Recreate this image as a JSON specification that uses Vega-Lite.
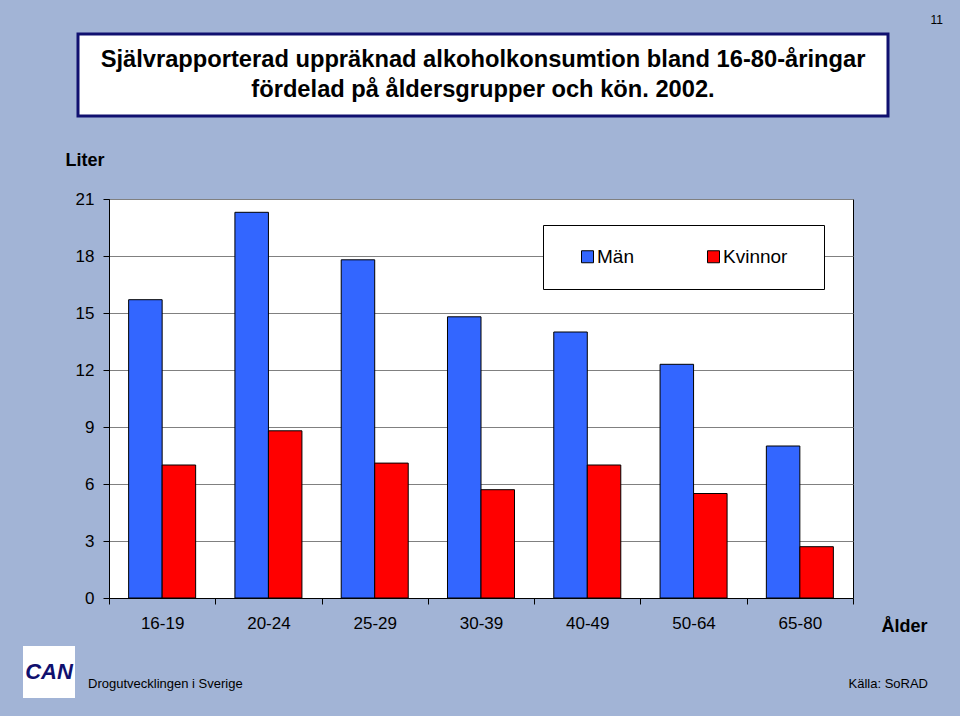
{
  "$schema": "https://vega.github.io/schema/vega-lite/v6.json",
  "background": "#A2B4D6",
  "padding": {"left": 23, "top": 13, "right": 40, "bottom": 30},
  "title": {"text": "11", "anchor": "end", "fontSize": 12, "fontWeight": "normal", "font": "Liberation Sans", "color": "#000000", "offset": 6, "dx": 15},
  "spacing": 32,
  "config": {"font": "Liberation Sans"},
  "vconcat": [
    {
      "spacing": 52,
      "hconcat": [
        {"width": 1, "height": 1, "view": {"stroke": null}, "data": {"values": []}, "mark": {"type": "point", "opacity": 0}},
        {
          "width": 810,
          "height": 82,
          "view": {"fill": "white", "stroke": "#101070", "strokeWidth": 3},
          "data": {"values": [
            {"line": 1, "text": "Självrapporterad uppräknad alkoholkonsumtion bland 16-80-åringar"},
            {"line": 2, "text": "fördelad på åldersgrupper och kön. 2002."}
          ]},
          "mark": {"type": "text", "font": "Liberation Sans", "fontSize": 23.7, "fontWeight": "bold", "color": "#000000", "baseline": "middle"},
          "encoding": {
            "y": {"field": "line", "type": "ordinal", "axis": null, "scale": {"type": "point", "padding": 0.91}},
            "text": {"field": "text"}
          }
        }
      ]
    },
    {
      "spacing": 10,
      "vconcat": [
        {
          "spacing": 40,
          "hconcat": [
            {"width": 1, "height": 1, "view": {"stroke": null}, "data": {"values": []}, "mark": {"type": "point", "opacity": 0}},
            {
              "width": 744,
              "height": 399,
              "view": {"fill": "white", "stroke": "#000000", "strokeWidth": 1},
              "data": {"values": [
                {"age": "16-19", "kon": "Män", "liter": 15.7},
                {"age": "16-19", "kon": "Kvinnor", "liter": 7.0},
                {"age": "20-24", "kon": "Män", "liter": 20.3},
                {"age": "20-24", "kon": "Kvinnor", "liter": 8.8},
                {"age": "25-29", "kon": "Män", "liter": 17.8},
                {"age": "25-29", "kon": "Kvinnor", "liter": 7.1},
                {"age": "30-39", "kon": "Män", "liter": 14.8},
                {"age": "30-39", "kon": "Kvinnor", "liter": 5.7},
                {"age": "40-49", "kon": "Män", "liter": 14.0},
                {"age": "40-49", "kon": "Kvinnor", "liter": 7.0},
                {"age": "50-64", "kon": "Män", "liter": 12.3},
                {"age": "50-64", "kon": "Kvinnor", "liter": 5.5},
                {"age": "65-80", "kon": "Män", "liter": 8.0},
                {"age": "65-80", "kon": "Kvinnor", "liter": 2.7}
              ]},
              "mark": {"type": "bar", "stroke": "#000000", "strokeWidth": 1},
              "encoding": {
                "x": {
                  "field": "age", "type": "nominal", "sort": null,
                  "scale": {"paddingInner": 0, "paddingOuter": 0},
                  "axis": {
                    "title": "Ålder", "titleX": 795, "titleY": 28, "titleAlign": "center", "titleBaseline": "middle",
                    "titleFontSize": 18, "titleFontWeight": "bold", "titleColor": "#000000", "titleFont": "Liberation Sans",
                    "labelAngle": 0, "labelFontSize": 17, "labelColor": "#000000", "labelFont": "Liberation Sans", "labelPadding": 11,
                    "tickBand": "extent", "tickSize": 6, "tickColor": "#000000", "domainColor": "#000000", "grid": false
                  }
                },
                "xOffset": {"field": "kon", "type": "nominal", "sort": ["Män", "Kvinnor"], "scale": {"paddingInner": 0, "paddingOuter": 0.586}},
                "y": {
                  "field": "liter", "type": "quantitative",
                  "scale": {"domain": [0, 21], "nice": false},
                  "axis": {
                    "title": "Liter", "titleAngle": 0, "titleX": -44, "titleY": -39, "titleAlign": "left", "titleBaseline": "middle",
                    "titleFontSize": 18, "titleFontWeight": "bold", "titleColor": "#000000", "titleFont": "Liberation Sans",
                    "values": [0, 3, 6, 9, 12, 15, 18, 21],
                    "labelFontSize": 17, "labelColor": "#000000", "labelFont": "Liberation Sans", "labelPadding": 9,
                    "tickSize": 6, "tickColor": "#000000", "domainColor": "#000000",
                    "grid": true, "gridColor": "#808080", "gridWidth": 1
                  }
                },
                "color": {
                  "field": "kon", "type": "nominal",
                  "scale": {"domain": ["Män", "Kvinnor"], "range": ["#3366FF", "#FF0000"]},
                  "legend": {
                    "title": null, "orient": "none", "legendX": 520, "legendY": 191, "direction": "horizontal",
                    "fillColor": "white", "strokeColor": "#000000", "padding": 22,
                    "symbolType": "square", "symbolSize": 144, "symbolStrokeColor": "#000000", "symbolStrokeWidth": 1, "symbolOpacity": 1,
                    "symbolOffset": 13, "labelOffset": 0, "columnPadding": 57,
                    "labelFontSize": 19, "labelColor": "#000000", "labelFont": "Liberation Sans",
                    "labelExpr": "datum.label == 'Kvinnor' ? 'Kvinnor\u2800' : datum.label"
                  }
                }
              }
            }
          ]
        },
        {
          "spacing": 13,
          "hconcat": [
            {
              "width": 52,
              "height": 52,
              "view": {"fill": "white", "stroke": null},
              "data": {"values": [{"logo": "CAN"}]},
              "mark": {"type": "text", "font": "Liberation Sans", "fontSize": 22, "fontWeight": "bold", "fontStyle": "italic", "color": "#10106E", "baseline": "middle"},
              "encoding": {"text": {"field": "logo"}}
            },
            {
              "width": 840,
              "height": 52,
              "view": {"stroke": null},
              "data": {"values": [
                {"side": "left", "text": "Drogutvecklingen i Sverige"},
                {"side": "right", "text": "Källa: SoRAD"}
              ]},
              "encoding": {
                "x": {"field": "side", "type": "nominal", "scale": {"type": "point", "padding": 0, "domain": ["left", "right"]}, "axis": null},
                "text": {"field": "text"}
              },
              "layer": [
                {"transform": [{"filter": "datum.side == 'left'"}], "mark": {"type": "text", "align": "left", "dy": 12, "baseline": "middle", "fontSize": 13, "font": "Liberation Sans", "color": "#000000"}},
                {"transform": [{"filter": "datum.side == 'right'"}], "mark": {"type": "text", "align": "right", "dy": 12, "baseline": "middle", "fontSize": 13, "font": "Liberation Sans", "color": "#000000"}}
              ]
            }
          ]
        }
      ]
    }
  ]
}
